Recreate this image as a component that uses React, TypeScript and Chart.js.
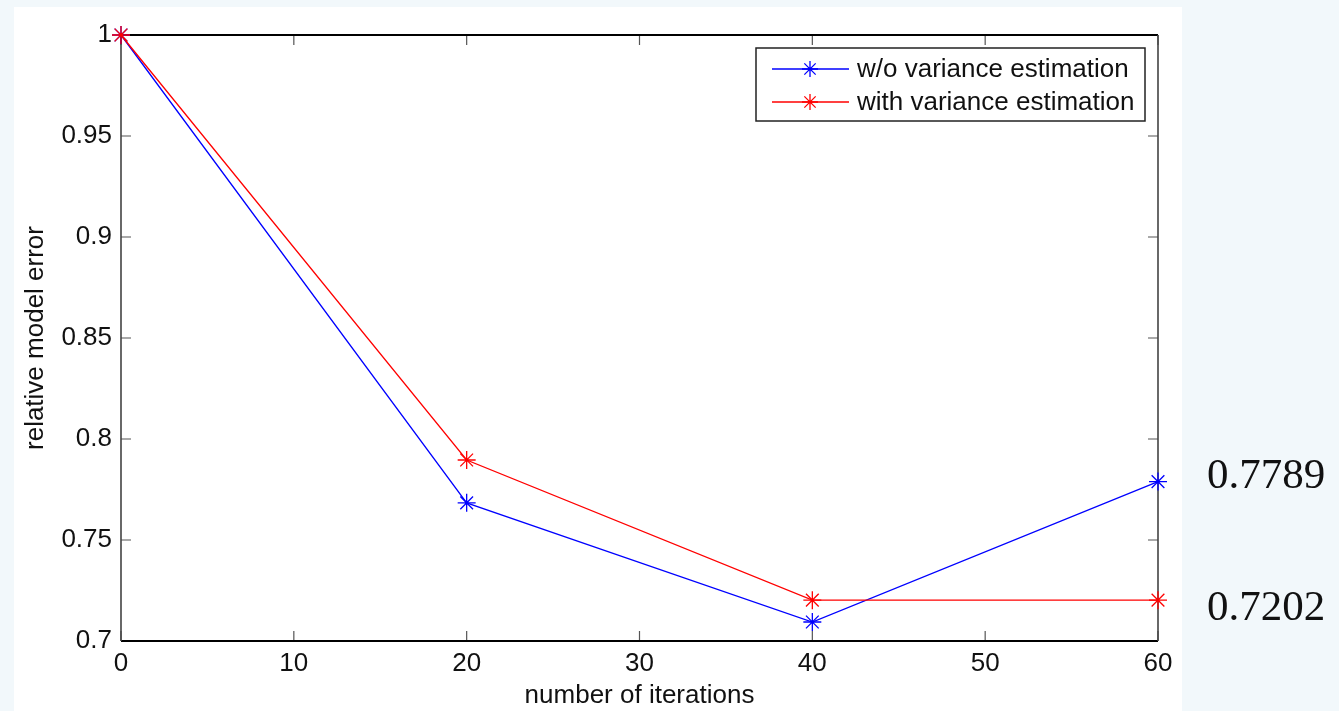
import React, { useEffect, useRef } from "react";
import { Chart, registerables } from "chart.js";

Chart.register(...registerables);

const iterations = [0, 20, 40, 60];
const withoutVariance = [1, 0.7684, 0.7094, 0.7789];
const withVariance = [1, 0.7896, 0.7202, 0.7202];
const seriesLabels = ["w/o variance estimation", "with variance estimation"];
const seriesColors = ["#0000ff", "#ff0000"];
const xTicks = [0, 10, 20, 30, 40, 50, 60];
const yTicks = [0.7, 0.75, 0.8, 0.85, 0.9, 0.95, 1];
const sideLabels = ["0.7789", "0.7202"];
const sideValues = [0.7789, 0.7202];

const W = 1339;
const H = 711;
const FONT = "'Liberation Sans', Arial, Helvetica, sans-serif";

const framePlugin = {
  id: "frame",
  beforeDraw(chart: any) {
    const { ctx } = chart;
    ctx.save();
    ctx.fillStyle = "#f2f8fb";
    ctx.fillRect(0, 0, W, H);
    ctx.fillStyle = "#ffffff";
    ctx.fillRect(14, 7, 1168, H - 7);
    ctx.restore();
  },
  beforeDatasetsDraw(chart: any) {
    const { ctx, chartArea: a, scales } = chart;
    const xs = scales.x;
    const ys = scales.y;
    ctx.save();
    ctx.strokeStyle = "#555555";
    ctx.lineWidth = 1.2;
    const tl = 10;
    xTicks.forEach((v) => {
      const px = xs.getPixelForValue(v);
      ctx.beginPath();
      ctx.moveTo(px, a.bottom);
      ctx.lineTo(px, a.bottom - tl);
      ctx.moveTo(px, a.top);
      ctx.lineTo(px, a.top + tl);
      ctx.stroke();
    });
    yTicks.forEach((v) => {
      const py = ys.getPixelForValue(v);
      ctx.beginPath();
      ctx.moveTo(a.left, py);
      ctx.lineTo(a.left + tl, py);
      ctx.moveTo(a.right, py);
      ctx.lineTo(a.right - tl, py);
      ctx.stroke();
    });
    ctx.strokeStyle = "#000000";
    ctx.lineWidth = 2;
    ctx.beginPath();
    ctx.moveTo(a.left, a.top);
    ctx.lineTo(a.right, a.top);
    ctx.moveTo(a.left, a.bottom);
    ctx.lineTo(a.right, a.bottom);
    ctx.stroke();
    ctx.strokeStyle = "#444444";
    ctx.lineWidth = 1.6;
    ctx.beginPath();
    ctx.moveTo(a.left, a.top);
    ctx.lineTo(a.left, a.bottom);
    ctx.moveTo(a.right, a.top);
    ctx.lineTo(a.right, a.bottom);
    ctx.stroke();
    ctx.restore();
  },
  afterDraw(chart: any) {
    const { ctx, scales } = chart;
    const ys = scales.y;
    ctx.save();
    const bx = 756, by = 48, bw = 389, bh = 73;
    ctx.fillStyle = "#ffffff";
    ctx.fillRect(bx, by, bw, bh);
    ctx.strokeStyle = "#222222";
    ctx.lineWidth = 1.5;
    ctx.strokeRect(bx, by, bw, bh);
    const rows = [69, 102];
    chart.data.datasets.forEach((ds: any, i: number) => {
      const y = rows[i];
      ctx.strokeStyle = ds.borderColor;
      ctx.lineWidth = 1.3;
      ctx.beginPath();
      ctx.moveTo(772, y);
      ctx.lineTo(849, y);
      ctx.stroke();
      const r = 8;
      ctx.beginPath();
      for (let k = 0; k < 4; k++) {
        const ang = (k * Math.PI) / 4;
        ctx.moveTo(810 - r * Math.sin(ang), y - r * Math.cos(ang));
        ctx.lineTo(810 + r * Math.sin(ang), y + r * Math.cos(ang));
      }
      ctx.stroke();
      ctx.fillStyle = "#111111";
      ctx.font = `26px ${FONT}`;
      ctx.textAlign = "left";
      ctx.textBaseline = "middle";
      ctx.fillText(ds.label, 857, y + 1);
    });
    ctx.fillStyle = "#111111";
    ctx.font = "43px 'Liberation Serif', 'DejaVu Serif', serif";
    ctx.textAlign = "left";
    ctx.textBaseline = "alphabetic";
    const offs = [6, 20];
    sideValues.forEach((v, i) => {
      ctx.fillText(sideLabels[i], 1207, ys.getPixelForValue(v) + offs[i]);
    });
    ctx.restore();
  },
};

function makeDataset(label: string, values: number[], color: string, order: number) {
  return {
    label,
    order,
    data: iterations.map((x, i) => ({ x, y: values[i] })),
    borderColor: color,
    backgroundColor: color,
    borderWidth: 1.3,
    pointStyle: "star",
    pointRadius: 9,
    pointBorderWidth: 1.3,
    pointBorderColor: color,
    tension: 0,
    fill: false,
    clip: false,
  };
}

export default function App() {
  const ref = useRef<HTMLCanvasElement | null>(null);
  useEffect(() => {
    if (!ref.current) return;
    const chart = new Chart(ref.current, {
      type: "line",
      data: {
        datasets: [
          makeDataset(seriesLabels[0], withoutVariance, seriesColors[0], 2),
          makeDataset(seriesLabels[1], withVariance, seriesColors[1], 1),
        ],
      },
      options: {
        animation: false,
        responsive: false,
        maintainAspectRatio: false,
        layout: { padding: { left: 0, top: 35, right: W - 1158, bottom: 0 } },
        plugins: {
          legend: { display: false },
          tooltip: { enabled: false },
        },
        scales: {
          x: {
            type: "linear",
            min: 0,
            max: 60,
            afterBuildTicks: (s: any) => {
              s.ticks = xTicks.map((v) => ({ value: v }));
            },
            afterFit: (s: any) => {
              s.height = H - 641;
            },
            grid: { display: false, drawTicks: false },
            border: { display: false },
            ticks: {
              color: "#111111",
              font: { family: FONT, size: 26 },
              padding: 7,
              maxRotation: 0,
              autoSkip: false,
            },
            title: {
              display: true,
              text: "number of iterations",
              color: "#111111",
              font: { family: FONT, size: 26 },
              padding: { top: 0, bottom: 0 },
            },
          },
          y: {
            type: "linear",
            min: 0.7,
            max: 1,
            afterBuildTicks: (s: any) => {
              s.ticks = yTicks.map((v) => ({ value: v }));
            },
            afterFit: (s: any) => {
              s.width = 121;
            },
            grid: { display: false, drawTicks: false },
            border: { display: false },
            ticks: {
              color: "#111111",
              font: { family: FONT, size: 26 },
              padding: 9,
              autoSkip: false,
              callback: (v: any) => String(Number(Number(v).toFixed(2))),
            },
            title: {
              display: true,
              text: "relative model error",
              color: "#111111",
              font: { family: FONT, size: 26 },
              padding: { top: 20, bottom: 0 },
            },
          },
        },
      },
      plugins: [framePlugin],
    } as any);
    return () => chart.destroy();
  }, []);
  return (
    <div style={{ position: "absolute", left: 0, top: 0, width: W, height: H }}>
      <canvas ref={ref} width={W} height={H} style={{ display: "block", width: W, height: H }} />
    </div>
  );
}
